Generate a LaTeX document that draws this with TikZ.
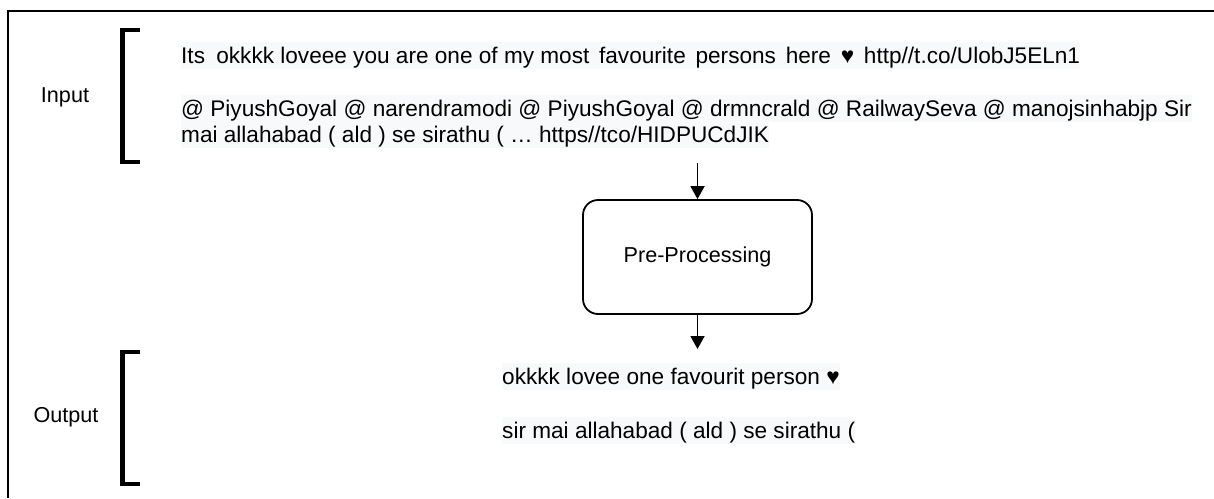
\documentclass[tikz,border=0pt]{standalone}
\usepackage{fontspec}
\setmainfont{Liberation Sans}
\usetikzlibrary{arrows.meta}
\definecolor{hl}{RGB}{248,249,250}
\begin{document}
\begin{tikzpicture}[x=1pt,y=-1pt,
  txt/.style={anchor=base west, fill=hl, inner xsep=0pt, inner ysep=0pt, text height=21pt, text depth=6pt, font=\fontsize{22.6}{26}\selectfont},
  lbl/.style={font=\fontsize{21.6}{26}\selectfont, inner sep=0pt},
  bracketline/.style={line width=4.5pt},
  proc/.style={draw, line width=1.8pt, rounded corners=15pt, minimum width=229pt, minimum height=114pt, font=\fontsize{21.6}{26}\selectfont},
  flow/.style={line width=1.8pt, -{Triangle[width=14pt,length=13pt]}}]
\useasboundingbox[fill=white] (0,0) rectangle (1214,498);
% frame
\draw[line width=2pt] (8,498) -- (8,11) -- (1214,11);
% brackets
\draw[bracketline] (140,30) -- (122.5,30) -- (122.5,162) -- (140,162);
\draw[bracketline] (140,352) -- (122.5,352) -- (122.5,484) -- (140,484);
% labels
\node[lbl] (inlbl) at (65,97) {Input};
\node[lbl] (outlbl) at (66,417) {Output};
% input text
\node[txt] (i1) at (181,63) {Its\hspace{5pt} okkkk loveee you are one of my most\hspace{3.5pt} favourite\hspace{3.5pt} persons\hspace{3.5pt} here\hspace{3.5pt} ♥\hspace{3.5pt} http//t.co/UlobJ5ELn1};
\node[txt] (i2) at (181,116) {@ PiyushGoyal @ narendramodi @ PiyushGoyal @ drmncrald @ RailwaySeva @ manojsinhabjp Sir};
\node[txt] (i3) at (181,142) {mai allahabad ( ald ) se sirathu ( … https//tco/HIDPUCdJIK};
% process
\node[proc] (pp) at (697.5,257) {Pre-Processing};
\coordinate (src) at (697.5,163);
\coordinate (dst) at (697.5,349);
\draw[flow] (src) -- (pp.north);
\draw[flow] (pp.south) -- (dst);
% output text
\node[txt] (o1) at (502,384) {okkkk lovee one favourit person ♥};
\node[txt] (o2) at (502,438) {sir mai allahabad ( ald ) se sirathu (};
\end{tikzpicture}
\end{document}
